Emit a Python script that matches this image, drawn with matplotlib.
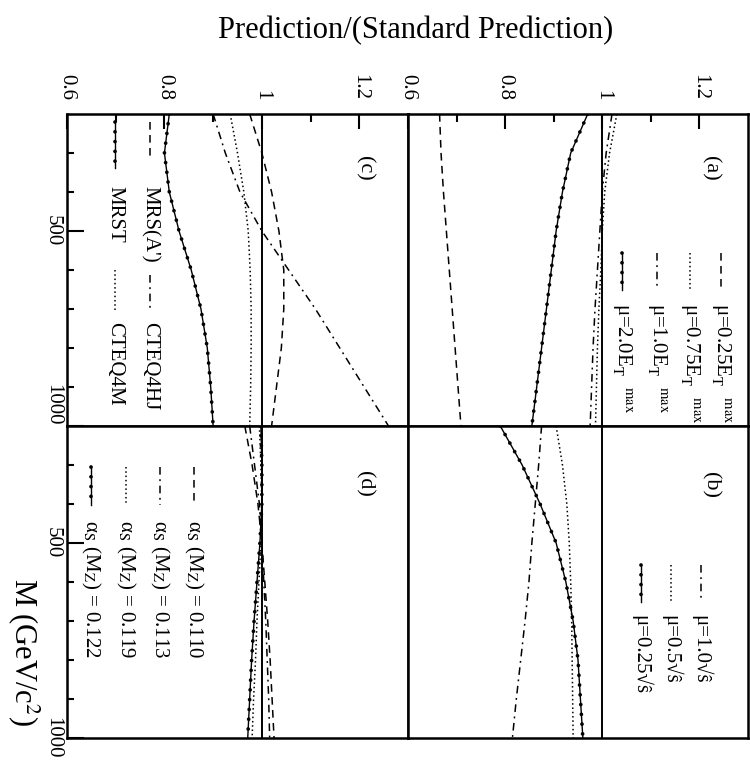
import matplotlib
matplotlib.use('Agg')
import matplotlib.pyplot as plt
from matplotlib.lines import Line2D

plt.rcParams['font.family'] = ['Liberation Serif', 'DejaVu Serif']
plt.rcParams['mathtext.fontset'] = 'stix'

# ---------------- data (M in GeV/c^2, ratio to standard prediction) -------------
M = [200, 300, 400, 500, 600, 700, 800, 900, 1000]

# (a) scale dependence, mu ~ E_T^max
a_mu025 = [0.665, 0.668, 0.673, 0.679, 0.685, 0.691, 0.697, 0.703, 0.709]
a_mu075 = [1.030, 1.015, 1.005, 1.000, 0.997, 0.993, 0.990, 0.988, 0.986]
a_mu10 = [1.020, 1.008, 1.000, 0.995, 0.990, 0.985, 0.981, 0.978, 0.975]
a_mu20 = [0.970, 0.935, 0.918, 0.905, 0.895, 0.885, 0.875, 0.865, 0.855]

# (b) scale dependence, mu ~ sqrt(s-hat)
b_mu10 = [0.875, 0.869, 0.862, 0.855, 0.849, 0.841, 0.832, 0.823, 0.815]
b_mu05 = [0.905, 0.918, 0.927, 0.932, 0.935, 0.937, 0.938, 0.939, 0.940]
b_mu025 = [0.790, 0.835, 0.872, 0.905, 0.925, 0.940, 0.950, 0.955, 0.960]

# (c) PDF dependence
c_mrsa = [0.975, 1.000, 1.020, 1.035, 1.045, 1.045, 1.040, 1.030, 1.020]
c_cteq4hj = [0.900, 0.925, 0.955, 1.000, 1.055, 1.110, 1.160, 1.210, 1.260]
c_mrst = [0.810, 0.800, 0.810, 0.830, 0.855, 0.875, 0.888, 0.895, 0.900]
c_cteq4m = [0.935, 0.950, 0.963, 0.972, 0.976, 0.978, 0.978, 0.977, 0.975]

# (d) alpha_s dependence
d_110 = [0.965, 0.980, 0.992, 1.000, 1.006, 1.012, 1.017, 1.021, 1.025]
d_113 = [0.975, 0.985, 0.995, 1.000, 1.004, 1.008, 1.011, 1.014, 1.016]
d_119 = [0.995, 0.998, 1.000, 0.998, 0.994, 0.990, 0.987, 0.983, 0.980]
d_122 = [0.998, 1.000, 1.000, 0.996, 0.990, 0.984, 0.979, 0.975, 0.971]

ratio_ticks = [0.6, 0.8, 1.0, 1.2]
ratio_labels = ['0.6', '0.8', '1', '1.2']
ratio_minor = [0.7, 0.9, 1.1]
mass_ticks = [500, 1000]
mass_labels = ['500', '1000']
mass_minor = [300, 400, 600, 700, 800, 900]

# ---------------- figure ---------------------------------------------------------
W, H = 750, 762
fig = plt.figure(figsize=(7.5, 7.62), dpi=100)


def fx(x):
    return x / W


def fy(y):
    return 1 - y / H


X0, XM, X1 = 67, 408, 748
Y0, YM, Y1 = 114, 426, 738


def make_ax(xl, xr, yt, yb, top, left, upper_row):
    ax = fig.add_axes([fx(xl), fy(yb), (xr - xl) / W, (yb - yt) / H])
    ax.set_xlim(0.6, 1.3)
    ax.set_ylim(1000, 200)
    for s in ax.spines.values():
        s.set_linewidth(1.8)
    ax.tick_params(which='both', direction='in', top=False, bottom=False,
                   left=False, right=False, labeltop=False, labelbottom=False,
                   labelleft=False, labelright=False)
    ax.set_xticks(ratio_ticks)
    ax.set_xticklabels(ratio_labels)
    ax.set_xticks(ratio_minor, minor=True)
    ax.set_yticks(mass_ticks)
    ax.set_yticklabels(mass_labels)
    ax.set_yticks(mass_minor, minor=True)
    if top:
        ax.tick_params(axis='x', which='both', top=True, labeltop=True,
                       labelrotation=-90, labelsize=15, pad=10, width=1.5)
        ax.tick_params(axis='x', which='major', length=11)
        ax.tick_params(axis='x', which='minor', length=6)
        for lab in ax.get_xticklabels():
            lab.set_va('bottom')
    if left:
        ax.tick_params(axis='y', which='both', left=True, labelleft=True,
                       labelrotation=-90, labelsize=15, pad=3.5, width=1.5)
        ax.tick_params(axis='y', which='major', length=12)
        ax.tick_params(axis='y', which='minor', length=5)
        labs = ax.get_yticklabels()
        for lab in labs:
            lab.set_va('center')
        if upper_row:
            labs[-1].set_va('bottom')
    ax.axvline(1.0, color='black', lw=1.4)
    return ax


ax_c = make_ax(X0, XM, Y0, YM, True, True, True)
ax_a = make_ax(XM, X1, Y0, YM, True, False, True)
ax_d = make_ax(X0, XM, YM, Y1, False, True, False)
ax_b = make_ax(XM, X1, YM, Y1, False, False, False)

STY = {
    'dash': dict(ls=(0, (5, 3.5)), lw=1.1),
    'dot': dict(ls=(0, (1, 1.8)), lw=1.1),
    'dashdot': dict(ls=(0, (5, 3, 1.2, 3)), lw=1.1),
}


def draw(ax, vals, style):
    if style == 'dotline':
        ax.plot(vals, M, color='black', lw=1.0, ls='-')
        ax.plot(vals, M, color='black', lw=2.7, ls=(0, (0.01, 2.6)),
                dash_capstyle='round')
    else:
        ax.plot(vals, M, color='black', **STY[style])


draw(ax_a, a_mu025, 'dash')
draw(ax_a, a_mu075, 'dot')
draw(ax_a, a_mu10, 'dashdot')
draw(ax_a, a_mu20, 'dotline')

draw(ax_b, b_mu10, 'dashdot')
draw(ax_b, b_mu05, 'dot')
draw(ax_b, b_mu025, 'dotline')

draw(ax_c, c_mrsa, 'dash')
draw(ax_c, c_cteq4hj, 'dashdot')
draw(ax_c, c_mrst, 'dotline')
draw(ax_c, c_cteq4m, 'dot')

draw(ax_d, d_110, 'dash')
draw(ax_d, d_113, 'dashdot')
draw(ax_d, d_119, 'dot')
draw(ax_d, d_122, 'dotline')


# ---------------- legends (drawn in figure pixel coords) -------------------------
def seg(x, y1, y2, style):
    xs = [fx(x), fx(x)]
    ys = [fy(y1), fy(y2)]
    if style == 'dotline':
        fig.add_artist(Line2D(xs, ys, color='black', lw=1.0))
        fig.add_artist(Line2D(xs, ys, color='black', lw=2.7, ls=(0, (0.01, 2.6)),
                              dash_capstyle='round'))
    else:
        fig.add_artist(Line2D(xs, ys, color='black', **STY[style]))


def rtext(x, y, s, size=15, va='top'):
    fig.text(fx(x), fy(y), s, rotation=-90, ha='center', va=va, fontsize=size)


# (a)
a_leg = [(721, 'dash', 'μ=0.25E$_{\\rm T}^{\\qquad\\rm max}$'),
         (690, 'dot', 'μ=0.75E$_{\\rm T}^{\\qquad\\rm max}$'),
         (657, 'dashdot', 'μ=1.0E$_{\\rm T}^{\\qquad\\rm max}$'),
         (622, 'dotline', 'μ=2.0E$_{\\rm T}^{\\qquad\\rm max}$')]
for x, st, lab in a_leg:
    seg(x, 253, 290, st)
    rtext(x, 303, lab)

# (b)
b_leg = [(701, 'dashdot', 'μ=1.0√ŝ'),
         (671, 'dot', 'μ=0.5√ŝ'),
         (641, 'dotline', 'μ=0.25√ŝ')]
for x, st, lab in b_leg:
    seg(x, 565, 602, st)
    rtext(x, 615, lab)

# (c)
seg(150, 122, 158, 'dash')
rtext(150, 186, "MRS(A')")
seg(115, 122, 168, 'dotline')
rtext(115, 186, 'MRST')
seg(150, 275, 310, 'dashdot')
rtext(150, 322, 'CTEQ4HJ')
seg(115, 270, 310, 'dot')
rtext(115, 322, 'CTEQ4M')

# (d)
d_leg = [(194, 'dash', 'α$_{\\rm S}$ (M$_{\\rm Z}$) = 0.110'),
         (160, 'dashdot', 'α$_{\\rm S}$ (M$_{\\rm Z}$) = 0.113'),
         (126, 'dot', 'α$_{\\rm S}$ (M$_{\\rm Z}$) = 0.119'),
         (91, 'dotline', 'α$_{\\rm S}$ (M$_{\\rm Z}$) = 0.122')]
for x, st, lab in d_leg:
    seg(x, 467, 505, st)
    rtext(x, 520, lab)

# panel labels
rtext(710, 168, '(a)', size=16, va='center')
rtext(364, 168, '(c)', size=16, va='center')
rtext(710, 485, '(b)', size=16, va='center')
rtext(364, 484, '(d)', size=16, va='center')

# axis titles
fig.text(fx(416), fy(31), 'Prediction/(Standard Prediction)', ha='center',
         va='center', fontsize=22)
fig.text(fx(24), fy(652), 'M (GeV/c$^2$)', rotation=-90, ha='center',
         va='center', fontsize=22)

fig.savefig('out.png', dpi=100)
